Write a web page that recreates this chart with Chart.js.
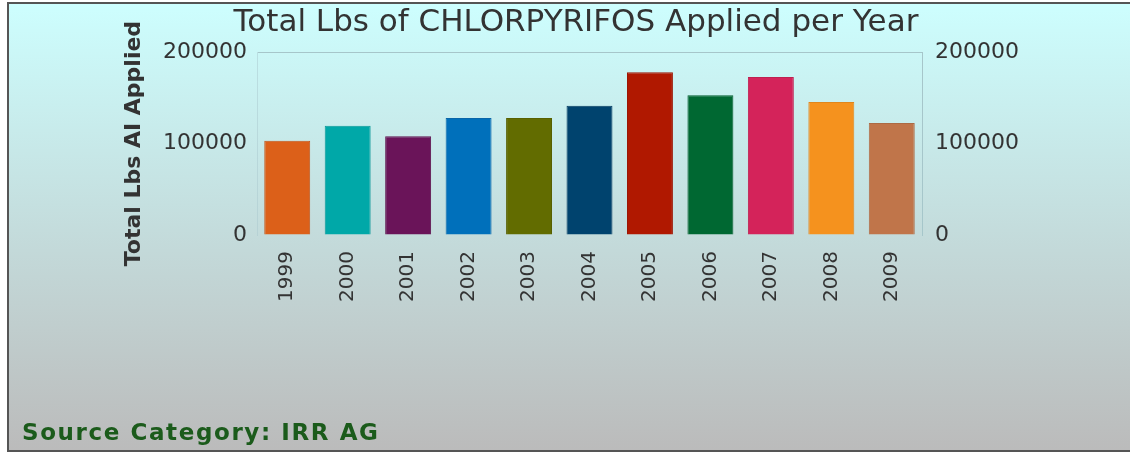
<!DOCTYPE html>
<html>
<head>
<meta charset="utf-8">
<script src="https://cdn.jsdelivr.net/npm/chart.js@4"></script>
<style>
body { margin: 0; width: 1130px; height: 452px; overflow: hidden; background: #fff; position: relative; }
#frame { position: absolute; left: 7px; top: 2px; width: 1130px; height: 446px; border: 2px solid #555; border-right: none;
         background: linear-gradient(#cdfefe, #bbbbbb); }
#wrap { position: absolute; left: 0; top: 0; width: 1130px; height: 452px; }
#note { position: absolute; left: 22px; top: 419px; font: bold 23px "DejaVu Sans"; color: #1b5b1b; letter-spacing: 1.6px; }
</style>
</head>
<body>
<div id="frame"></div>
<div id="wrap"><canvas id="chart"></canvas></div>
<div id="note">Source Category: IRR AG</div>
<script>
// chart data
const years = ["1999", "2000", "2001", "2002", "2003", "2004", "2005", "2006", "2007", "2008", "2009"];
const lbsApplied = [103000, 119500, 108000, 128000, 128000, 141500, 178000, 153000, 173000, 145500, 122500];
const yTicks = [0, 100000, 200000];

const barColors = ["#dc6019", "#00a8a8", "#6a1459", "#0070bb", "#626c00", "#00436e",
                   "#b01800", "#006832", "#d4235a", "#f5921e", "#c0754a"];
const barEdges = ["#c4561a", "#0a9898", "#5e1450", "#0a66a8", "#586000", "#063c62",
                  "#9c1604", "#045c2e", "#be2050", "#e0861c", "#ac6a44"];

const font = "DejaVu Sans";

new Chart(document.getElementById("chart"), {
    type: "bar",
    data: {
        labels: years,
        datasets: [{
            data: lbsApplied,
            backgroundColor: barColors,
            borderColor: barEdges,
            borderWidth: 1,
            barPercentage: 0.76,
            categoryPercentage: 1.0
        }]
    },
    options: {
        responsive: true,
        maintainAspectRatio: false,
        animation: false,
        layout: { padding: { left: 22, right: 0, top: 0, bottom: 0 } },
        plugins: {
            legend: { display: false },
            tooltip: { enabled: false },
            title: {
                display: true,
                text: "Total Lbs of CHLORPYRIFOS Applied per Year",
                color: "#333",
                font: { family: font, size: 31, weight: "normal" },
                padding: { top: 4, bottom: 11 }
            }
        },
        scales: {
            x: {
                grid: { display: false },
                border: { display: false },
                ticks: {
                    color: "#333",
                    font: { family: font, size: 20 },
                    minRotation: 90,
                    maxRotation: 90,
                    padding: 8
                },
                afterFit: s => { s.height = 217; }
            },
            y: {
                position: "left",
                min: 0,
                max: 200000,
                afterBuildTicks: s => { s.ticks = yTicks.map(v => ({ value: v })); },
                grid: {
                    drawTicks: false,
                    color: c => (c.tick && c.tick.value === 200000) ? "#a6c6ca" : "rgba(0,0,0,0)"
                },
                border: { display: true, color: "rgba(170,200,205,0.5)" },
                ticks: { color: "#333", font: { family: font, size: 22 }, padding: 10, callback: v => String(v) },
                title: {
                    display: true,
                    text: "Total Lbs AI Applied",
                    color: "#333",
                    font: { family: font, size: 22, weight: "bold" },
                    padding: { top: 99, bottom: 0 }
                },
                afterFit: s => { s.width = 235; }
            },
            y2: {
                position: "right",
                min: 0,
                max: 200000,
                afterBuildTicks: s => { s.ticks = yTicks.map(v => ({ value: v })); },
                grid: { display: false, drawTicks: false },
                border: { display: true, color: "#a6c6ca" },
                ticks: { color: "#333", font: { family: font, size: 22 }, padding: 13, callback: v => String(v) },
                afterFit: s => { s.width = 208; }
            }
        }
    }
});
</script>
</body>
</html>
